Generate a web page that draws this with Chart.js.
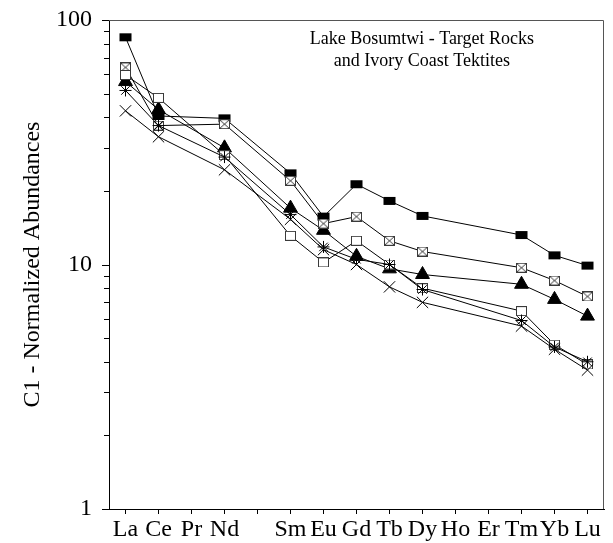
<!DOCTYPE html>
<html>
<head>
<meta charset="utf-8">
<script src="https://cdn.jsdelivr.net/npm/chart.js@4.4.1/dist/chart.umd.min.js"></script>
<style>
	html, body { margin: 0; padding: 0; background: #fff; }
</style>
</head>
<body>
<canvas id="chart_ree" width="613" height="543"></canvas>
<script>
'use strict';

// REE order, Pm left blank
const ELEMENTS = ['La', 'Ce', 'Pr', 'Nd', '', 'Sm', 'Eu', 'Gd', 'Tb', 'Dy', 'Ho', 'Er', 'Tm', 'Yb', 'Lu'];

// chondrite normalized values, null = not determined
const filledSquare = [85, 40.5, null, 39.6, null, 23.6, 15.7, 21.3, 18.2, 15.8, null, null, 13.2, 10.9, 9.9];
const crossedSquare = [64, 37, null, 37.5, null, 22, 14.7, 15.7, 12.5, 11.3, null, null, 9.7, 8.6, 7.4];
const filledTriangle = [56, 43, null, 30, null, 17, 13.8, 10.8, 9.6, 9.1, null, null, 8.3, 7.2, 6.15];
const openSquare = [59.6, 48, null, 28, null, 13.1, 10.2, 12.5, 10, 8, null, null, 6.45, 4.7, 3.9];
const asterisk = [51.5, 37, null, 27.5, null, 16, 11.8, 10.5, 10, 7.9, null, null, 5.9, 4.6, 4.0];
const crossMark = [42.5, 33.3, null, 24.4, null, 15.3, 11.5, 10, 8.1, 7, null, null, 5.6, 4.5, 3.7];

// y tick marks (labels only on the decades)
const Y_TICKS = [1, 2, 3, 4, 5, 6, 7, 8, 9, 10, 20, 30, 40, 50, 60, 70, 80, 90, 100];
const Y_LABELS = [1, 10, 100];
const TITLE_LINES = ['Lake Bosumtwi - Target Rocks', 'and Ivory Coast Tektites'];
const Y_TITLE = 'C1 - Normalized Abundances';

const SERIF = '"Liberation Serif", "Times New Roman", serif';

function makeBox(filled, crossed) {
	let c = document.createElement('canvas');
	c.width = 13;
	c.height = 10;
	let ctx = c.getContext('2d');
	if (filled) {
		ctx.fillStyle = '#000';
		ctx.fillRect(0.5, 1, 12, 8);
	} else {
		ctx.fillStyle = '#fff';
		ctx.fillRect(1, 1, 11, 8);
		ctx.strokeStyle = '#3a3a3a';
		ctx.lineWidth = 1;
		ctx.strokeRect(1.5, 0.5, 10, 9);
		if (crossed) {
			ctx.beginPath();
			ctx.moveTo(1.5, 0.5);
			ctx.lineTo(11.5, 9.5);
			ctx.moveTo(11.5, 0.5);
			ctx.lineTo(1.5, 9.5);
			ctx.stroke();
		}
	}
	return c;
}

function series(data, style, radius, fill) {
	return {
		data: data,
		borderColor: '#000',
		borderWidth: 1,
		pointStyle: style,
		pointRadius: radius,
		pointBackgroundColor: fill,
		pointBorderColor: '#000',
		pointBorderWidth: 1,
		spanGaps: true,
		tension: 0,
		fill: false,
	};
}

const framePlugin = {
	id: 'frame',
	afterDraw(chart) {
		let {ctx, chartArea: a} = chart;
		let yScale = chart.scales.y;
		ctx.save();
		ctx.strokeStyle = '#555';
		ctx.lineWidth = 1;
		ctx.beginPath();
		ctx.moveTo(a.left, a.top + 0.5);
		ctx.lineTo(a.right - 0.5, a.top + 0.5);
		ctx.lineTo(a.right - 0.5, a.bottom);
		ctx.stroke();
		// tick marks on the log axis, placed through the scale
		ctx.strokeStyle = '#000';
		ctx.beginPath();
		Y_TICKS.forEach(v => {
			let y = Math.round(yScale.getPixelForValue(v)) + 0.5;
			let len = Y_LABELS.includes(v) ? 7 : 5;
			ctx.moveTo(a.left - len, y);
			ctx.lineTo(a.left, y);
		});
		ctx.stroke();
		ctx.fillStyle = '#000';
		ctx.font = '18px ' + SERIF;
		ctx.textAlign = 'center';
		ctx.textBaseline = 'middle';
		let cx = a.left + (a.right - a.left) * 0.632;
		ctx.fillText(TITLE_LINES[0], cx, a.top + 19);
		ctx.fillText(TITLE_LINES[1], cx, a.top + 41);
		ctx.restore();
	}
};

let ctx = document.getElementById('chart_ree').getContext('2d');
window.ChartRee = new Chart(ctx, {
	type: 'line',
	data: {
		labels: ELEMENTS,
		datasets: [
			series(crossMark, 'crossRot', 8, '#000'),
			series(asterisk, 'star', 6, '#000'),
			series(openSquare, makeBox(false, false), 6, '#fff'),
			series(crossedSquare, makeBox(false, true), 6, '#fff'),
			series(filledTriangle, 'triangle', 8, '#000'),
			series(filledSquare, makeBox(true, false), 6, '#000'),
		],
	},
	options: {
		responsive: false,
		devicePixelRatio: 1,
		animation: false,
		events: [],
		layout: {padding: {top: 20, right: 1, left: 0, bottom: 0}},
		plugins: {legend: {display: false}, tooltip: {enabled: false}, title: {display: false}},
		scales: {
			x: {
				type: 'category',
				offset: true,
				grid: {display: true, drawOnChartArea: false, drawTicks: true, tickLength: 5, color: '#000'},
				border: {display: true, color: '#000', width: 1},
				ticks: {
					autoSkip: false, maxRotation: 0, minRotation: 0, padding: 1,
					color: '#000', font: {family: SERIF, size: 24},
				},
				afterFit: scale => {
					scale.height = 34;
					scale.paddingLeft = 0;
					scale.paddingRight = 0;
				},
			},
			y: {
				type: 'logarithmic',
				min: 1,
				max: 100,
				grid: {display: false},
				border: {display: true, color: '#000', width: 1},
				ticks: {
					autoSkip: false, padding: 9, color: '#000',
					font: {family: SERIF, size: 24},
					callback: value => Y_LABELS.includes(value) ? String(value) : '',
				},
				afterBuildTicks: scale => {
					scale.ticks = Y_TICKS.map(v => ({value: v, major: Y_LABELS.includes(v)}));
				},
				title: {
					display: true, text: Y_TITLE, color: '#000',
					font: {family: SERIF, size: 24},
					padding: {top: 18, bottom: 0},
				},
				afterFit: scale => {
					scale.width = 109;
					scale.paddingTop = 0;
					scale.paddingBottom = 0;
				},
			},
		},
	},
	plugins: [framePlugin],
});
</script>
</body>
</html>
